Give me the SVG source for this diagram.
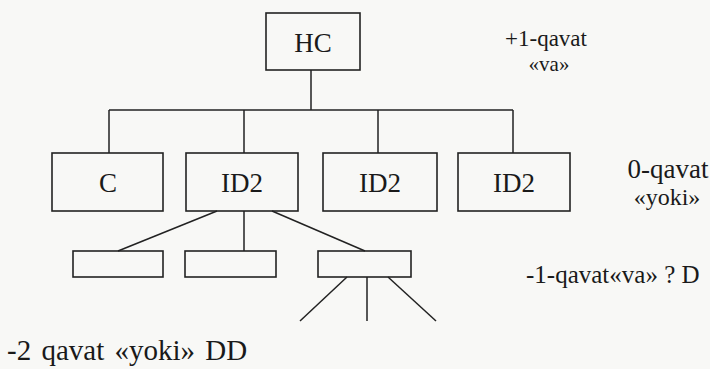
<svg xmlns="http://www.w3.org/2000/svg" width="710" height="369" viewBox="0 0 710 369">
<style>
.box{fill:none;stroke:#222;stroke-width:1.6}
.ln{fill:none;stroke:#222;stroke-width:1.5}
.bt{text-anchor:middle}
</style>
<rect x="0" y="0" width="710" height="369" fill="#f8f8f6"/>
<g id="connectors">
<line class="ln" x1="311" y1="70" x2="311" y2="110"/>
<line class="ln" x1="109" y1="110" x2="513" y2="110"/>
<line class="ln" x1="109" y1="110" x2="109" y2="153"/>
<line class="ln" x1="244" y1="110" x2="244" y2="153"/>
<line class="ln" x1="378" y1="110" x2="378" y2="153"/>
<line class="ln" x1="513" y1="110" x2="513" y2="153"/>
<line class="ln" x1="217" y1="211" x2="118" y2="251"/>
<line class="ln" x1="244" y1="211" x2="244" y2="251"/>
<line class="ln" x1="272" y1="211" x2="365" y2="251"/>
<line class="ln" x1="347" y1="277" x2="300" y2="321"/>
<line class="ln" x1="367" y1="277" x2="367" y2="321"/>
<line class="ln" x1="388" y1="277" x2="436" y2="321"/>
</g>
<g font-family="Liberation Serif, DejaVu Serif, serif" fill="#1a1a1a">
<g id="hc"><rect class="box" x="266" y="13" width="94" height="57"/><text class="bt" x="313" y="52" font-size="27">HC</text></g>
<g id="c"><rect class="box" x="52" y="153" width="111" height="58"/><text class="bt" x="108" y="192" font-size="27">C</text></g>
<g id="id2a"><rect class="box" x="186" y="153" width="112" height="58"/><text class="bt" x="242" y="192" font-size="27">ID2</text></g>
<g id="id2b"><rect class="box" x="323" y="153" width="114" height="58"/><text class="bt" x="380" y="192" font-size="27">ID2</text></g>
<g id="id2c"><rect class="box" x="458" y="153" width="112" height="58"/><text class="bt" x="514" y="192" font-size="27">ID2</text></g>
<g id="s1"><rect class="box" x="73" y="251" width="90" height="26"/></g>
<g id="s2"><rect class="box" x="185" y="251" width="91" height="26"/></g>
<g id="s3"><rect class="box" x="318" y="251" width="93" height="26"/></g>
<g id="labels">
<text class="bt" x="546" y="46" font-size="23">+1-qavat</text>
<text class="bt" x="549" y="71" font-size="21">«va»</text>
<text class="bt" x="668" y="178" font-size="27">0-qavat</text>
<text class="bt" x="667" y="205" font-size="24">«yoki»</text>
<text x="526" y="283" font-size="25">-1-qavat«va» ? D</text>
<text x="7" y="360" font-size="29" word-spacing="3">-2 qavat «yoki» DD</text>
</g>
</g>
</svg>
